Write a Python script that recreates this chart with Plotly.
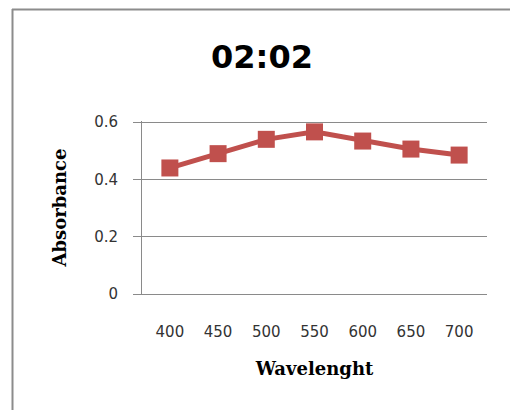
import plotly.graph_objects as go

wavelength = ["400", "450", "500", "550", "600", "650", "700"]
absorbance = [0.44, 0.49, 0.54, 0.566, 0.534, 0.506, 0.485]
y_ticks = [0, 0.2, 0.4, 0.6]
y_tick_text = ["0", "0.2", "0.4", "0.6"]

W, H = 510, 410
L, R, T, B = 142, 23, 121, 116

fig = go.Figure()
fig.add_trace(go.Scatter(
    x=wavelength, y=absorbance, mode="lines+markers",
    line=dict(color="#C0504D", width=5),
    marker=dict(symbol="square", size=17, color="#C0504D"),
    showlegend=False,
))

def px(x):
    return (x - L) / (W - L - R)

def py(y):
    return (H - B - y) / (H - T - B)

fig.update_layout(
    width=W, height=H,
    margin=dict(l=L, r=R, t=T, b=B),
    paper_bgcolor="white", plot_bgcolor="white",
    title=dict(text="<b>02:02</b>", xref="container", x=262 / W, xanchor="center",
               yref="container", y=1 - 57 / H, yanchor="middle",
               font=dict(family="DejaVu Sans", size=32, color="#000000")),
    shapes=[
        dict(type="line", xref="paper", yref="paper", x0=px(12), x1=px(520),
             y0=py(9.5), y1=py(9.5), line=dict(color="#8c8c8c", width=2)),
        dict(type="line", xref="paper", yref="paper", x0=px(12.5), x1=px(12.5),
             y0=py(9), y1=py(420), line=dict(color="#8c8c8c", width=2)),
    ],
)
fig.update_xaxes(
    type="category", showgrid=False, showline=True, linecolor="#8a8a8a",
    linewidth=1, zeroline=False,
    ticks="", tickfont=dict(family="DejaVu Sans", size=15, color="#333333"),
    ticklabelstandoff=24,
    title=dict(text="<b>Wavelenght</b>", standoff=22,
               font=dict(family="DejaVu Serif", size=18, color="#000000")),
)
fig.update_yaxes(
    range=[0, 0.604], tickvals=y_ticks, ticktext=y_tick_text,
    showgrid=True, gridcolor="#8a8a8a", gridwidth=1,
    showline=True, linecolor="#8a8a8a", linewidth=1,
    zeroline=False,
    ticks="outside", ticklen=8, tickcolor="#8a8a8a",
    tickfont=dict(family="DejaVu Sans", size=15, color="#333333"),
    ticklabelstandoff=12,
    title=dict(text="<b>Absorbance</b>", standoff=22,
               font=dict(family="DejaVu Serif", size=18, color="#000000")),
)

fig.write_html("out.html")
